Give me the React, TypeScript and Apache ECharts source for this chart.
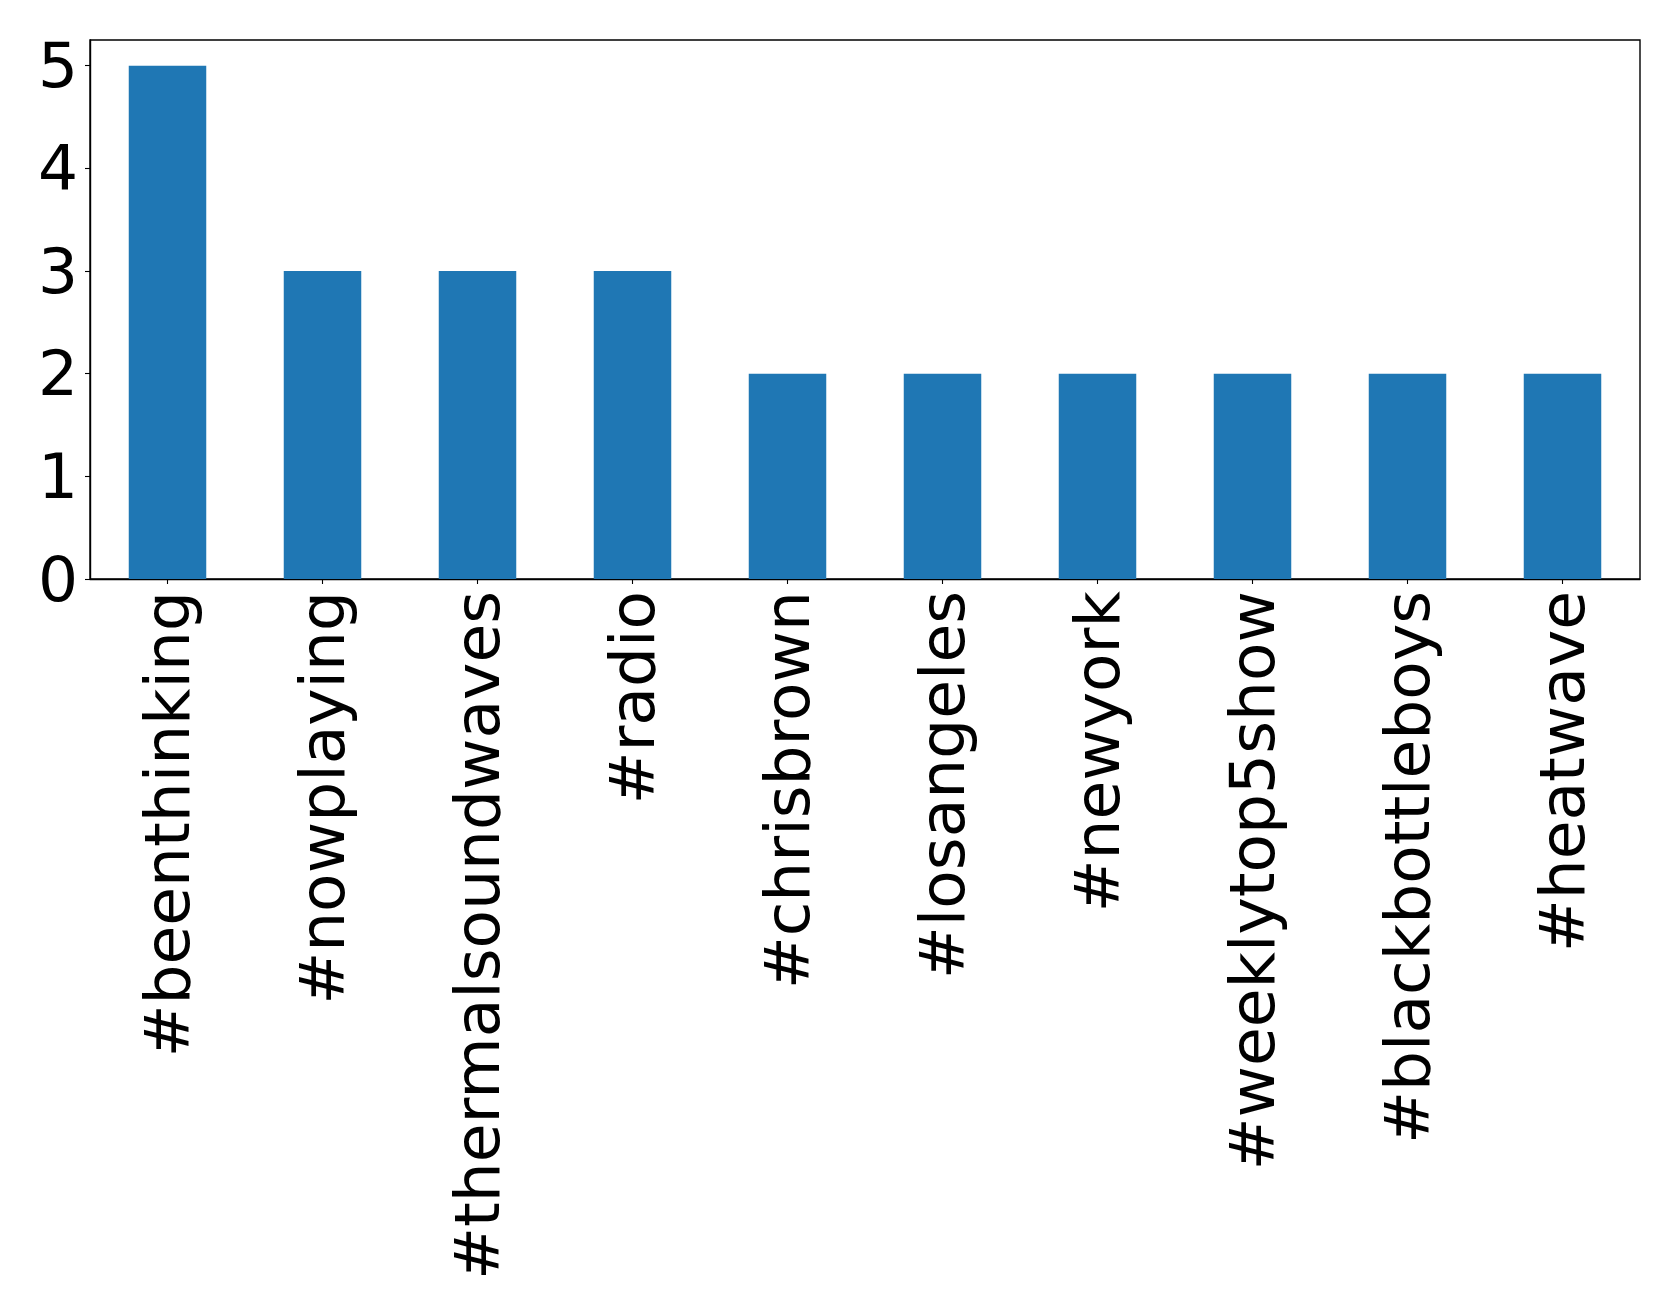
import React, { useEffect, useRef } from "react";
import * as echarts from "echarts";

const categories = [
  "#beenthinking",
  "#nowplaying",
  "#thermalsoundwaves",
  "#radio",
  "#chrisbrown",
  "#losangeles",
  "#newyork",
  "#weeklytop5show",
  "#blackbottleboys",
  "#heatwave",
];
const counts = [5, 3, 3, 3, 2, 2, 2, 2, 2, 2];
const yTicks = [0, 1, 2, 3, 4, 5];

export default function App() {
  const ref = useRef<HTMLDivElement>(null);
  useEffect(() => {
    if (!ref.current) return;
    const chart = echarts.init(ref.current, null, { renderer: "svg" });
    const font = "DejaVu Sans";
    chart.setOption({
      animation: false,
      backgroundColor: "#ffffff",
      grid: {
        left: 90,
        right: 39,
        top: 40,
        bottom: 732,
        show: true,
        borderColor: "#000",
        borderWidth: 1.4,
        backgroundColor: "transparent",
      },
      xAxis: {
        type: "category",
        data: categories,
        boundaryGap: true,
        axisLine: { show: true, lineStyle: { color: "#000", width: 1.4 } },
        axisTick: { show: true, alignWithLabel: true, length: 5, lineStyle: { color: "#000", width: 1.1 } },
        axisLabel: {
          rotate: 90,
          interval: 0,
          margin: 12,
          color: "#000",
          fontSize: 63,
          fontFamily: font,
        },
        splitLine: { show: false },
      },
      yAxis: {
        type: "value",
        min: 0,
        max: 5.25,
        interval: 1,
        axisLine: { show: true, lineStyle: { color: "#000", width: 1.4 } },
        axisTick: { show: true, length: 5, customValues: yTicks, lineStyle: { color: "#000", width: 1.1 } },
        axisLabel: {
          customValues: yTicks,
          margin: 12,
          color: "#000",
          fontSize: 63,
          fontFamily: font,
        },
        splitLine: { show: false },
      },
      series: [
        {
          type: "bar",
          data: counts,
          barWidth: "50%",
          itemStyle: { color: "#1f77b4" },
        },
      ],
    });
    return () => chart.dispose();
  }, []);
  return (
    <div
      ref={ref}
      style={{ position: "absolute", left: 0, top: 0, width: 1679, height: 1311, background: "#fff" }}
    />
  );
}
